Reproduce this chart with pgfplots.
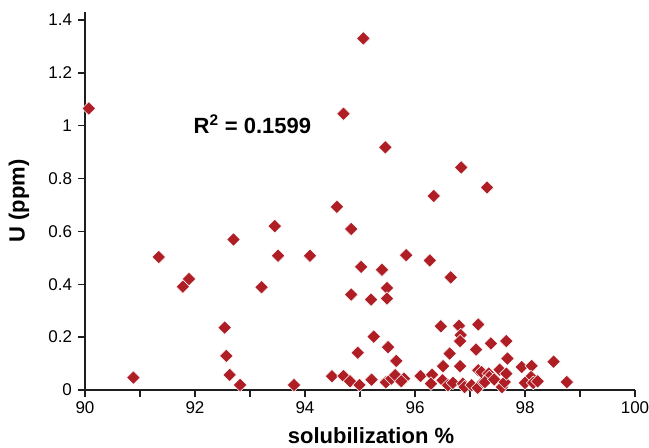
\documentclass[border=0pt]{standalone}
\usepackage{fontspec}
\setmainfont{Liberation Sans}
\usepackage{pgfplots}
\pgfplotsset{compat=1.18}

\definecolor{diamondred}{RGB}{175,29,37}
\definecolor{axisgray}{RGB}{30,30,30}

\begin{document}
\begin{tikzpicture}
  \begin{axis}[
    name=ax,
    scale only axis,
    width=412.5pt,
    height=283.5pt,
    xmin=90, xmax=100,
    ymin=0, ymax=1.43,
    axis lines*=left,
    axis line style={-, line width=1.4pt, color=axisgray},
    tick style={line width=1.1pt, color=axisgray},
    tick align=outside,
    major tick length=5.25pt,
    minor tick length=5.25pt,
    xtick={90,92,...,100},
    minor xtick={91,93,...,99},
    ytick={0,0.2,...,1.4},
    yticklabels={0,0.2,0.4,0.6,0.8,1,1.2,1.4},
    xticklabel style={font=\fontsize{12.75}{14}\selectfont},
    yticklabel style={font=\fontsize{12.75}{14}\selectfont, xshift=-1pt},
    /pgf/number format/assume math mode=true,
    clip=false,
  ]
    \addplot[only marks, mark=square*, mark size=3.6pt,
      mark options={rotate=45, fill=diamondred, draw=white, line width=0.4pt}]
      table {
x y
90.07 1.065
90.88 0.047
91.34 0.503
91.78 0.391
91.89 0.420
92.54 0.236
92.57 0.129
92.63 0.057
92.82 0.019
92.70 0.569
93.21 0.389
93.45 0.620
93.51 0.508
93.80 0.019
94.09 0.508
94.49 0.052
94.58 0.693
94.70 0.053
94.70 1.045
94.84 0.609
94.84 0.361
94.82 0.033
94.99 0.019
94.96 0.141
95.02 0.466
95.06 1.330
95.20 0.342
95.25 0.202
95.21 0.039
95.40 0.455
95.46 0.918
95.49 0.386
95.49 0.346
95.51 0.162
95.47 0.029
95.66 0.110
95.57 0.043
95.64 0.056
95.80 0.043
95.75 0.033
95.84 0.510
96.10 0.053
96.27 0.490
96.31 0.058
96.29 0.024
96.34 0.734
96.47 0.241
96.51 0.090
96.50 0.037
96.60 0.018
96.63 0.138
96.65 0.426
96.69 0.027
96.80 0.243
96.83 0.208
96.82 0.185
96.82 0.090
96.84 0.842
96.87 0.024
96.90 0.011
97.03 0.018
97.11 0.153
97.14 0.008
97.15 0.248
97.15 0.075
97.24 0.030
97.21 0.068
97.31 0.766
97.34 0.062
97.35 0.049
97.38 0.176
97.27 0.030
97.44 0.040
97.54 0.077
97.58 0.011
97.63 0.030
97.66 0.185
97.68 0.119
97.66 0.062
97.94 0.087
98.12 0.091
98.11 0.049
98.00 0.027
98.15 0.027
98.23 0.033
98.52 0.107
98.76 0.030
      };
    % labels placed by hand
    \node[rotate=90, font=\fontsize{16.5}{18}\selectfont\bfseries]
      at ([xshift=-49.5pt]rel axis cs:0,0.5) {U (ppm)};
    \node[font=\fontsize{16.5}{18}\selectfont\bfseries]
      at ([xshift=8.25pt, yshift=-34.5pt]rel axis cs:0.5,0) {solubilization \%};
    \node[anchor=west, font=\fontsize{16.5}{18}\selectfont\bfseries, inner sep=0pt]
      at (axis cs:91.97,1.005) {R\textsuperscript{2} = 0.1599};
  \end{axis}
  \pgfresetboundingbox
  \useasboundingbox ([shift={(-63.75pt,-43.5pt)}]ax.south west)
    rectangle ([shift={(10.5pt,9pt)}]ax.north east);
\end{tikzpicture}
\end{document}
